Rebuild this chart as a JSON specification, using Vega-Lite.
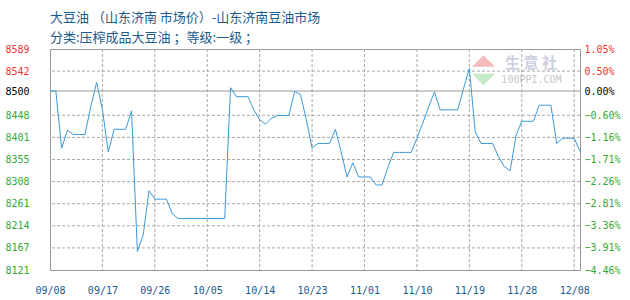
{
  "$schema": "https://vega.github.io/schema/vega-lite/v6.json",
  "width": 530,
  "height": 221,
  "autosize": {"type": "none"},
  "padding": {"left": 50, "top": 49, "right": 50, "bottom": 30},
  "background": "white",
  "config": {
    "view": {"stroke": "#999999", "strokeWidth": 1},
    "axis": {
      "labelFont": "DejaVu Sans Mono",
      "labelFontSize": 10,
      "ticks": false,
      "domain": false,
      "grid": false,
      "labelOverlap": false,
      "labelBound": false,
      "labelFlush": false
    }
  },
  "title": {
    "text": ["大豆油 （山东济南 市场价）-山东济南豆油市场", "分类:压榨成品大豆油 ；等级:一级 ；"],
    "anchor": "start",
    "frame": "group",
    "font": "Noto Sans CJK SC",
    "fontSize": 13,
    "fontWeight": "normal",
    "color": "#1b5b8c",
    "lineHeight": 20,
    "offset": -1
  },
  "datasets": {
    "gridY": [
      {"v": 8167.8}, {"v": 8214.6}, {"v": 8261.4}, {"v": 8308.2}, {"v": 8355},
      {"v": 8401.8}, {"v": 8448.6}, {"v": 8542.2}
    ],
    "gridX": [
      {"date": "2023-09-17"}, {"date": "2023-09-26"}, {"date": "2023-10-05"}, {"date": "2023-10-14"},
      {"date": "2023-10-23"}, {"date": "2023-11-01"}, {"date": "2023-11-10"}, {"date": "2023-11-19"},
      {"date": "2023-11-28"}, {"date": "2023-12-07"}
    ],
    "prices": [
      {"date": "2023-09-08", "price": 8500},
      {"date": "2023-09-09", "price": 8500},
      {"date": "2023-09-10", "price": 8379},
      {"date": "2023-09-11", "price": 8417},
      {"date": "2023-09-12", "price": 8408},
      {"date": "2023-09-13", "price": 8408},
      {"date": "2023-09-14", "price": 8408},
      {"date": "2023-09-15", "price": 8467},
      {"date": "2023-09-16", "price": 8518},
      {"date": "2023-09-17", "price": 8461},
      {"date": "2023-09-18", "price": 8371},
      {"date": "2023-09-19", "price": 8419},
      {"date": "2023-09-20", "price": 8419},
      {"date": "2023-09-21", "price": 8419},
      {"date": "2023-09-22", "price": 8458},
      {"date": "2023-09-23", "price": 8160},
      {"date": "2023-09-24", "price": 8195},
      {"date": "2023-09-25", "price": 8289},
      {"date": "2023-09-26", "price": 8271},
      {"date": "2023-09-27", "price": 8271},
      {"date": "2023-09-28", "price": 8271},
      {"date": "2023-09-29", "price": 8240},
      {"date": "2023-09-30", "price": 8230},
      {"date": "2023-10-01", "price": 8230},
      {"date": "2023-10-02", "price": 8230},
      {"date": "2023-10-03", "price": 8230},
      {"date": "2023-10-04", "price": 8230},
      {"date": "2023-10-05", "price": 8230},
      {"date": "2023-10-06", "price": 8230},
      {"date": "2023-10-07", "price": 8230},
      {"date": "2023-10-08", "price": 8230},
      {"date": "2023-10-09", "price": 8507},
      {"date": "2023-10-10", "price": 8488},
      {"date": "2023-10-11", "price": 8488},
      {"date": "2023-10-12", "price": 8488},
      {"date": "2023-10-13", "price": 8460},
      {"date": "2023-10-14", "price": 8439},
      {"date": "2023-10-15", "price": 8430},
      {"date": "2023-10-16", "price": 8442},
      {"date": "2023-10-17", "price": 8448},
      {"date": "2023-10-18", "price": 8448},
      {"date": "2023-10-19", "price": 8448},
      {"date": "2023-10-20", "price": 8499},
      {"date": "2023-10-21", "price": 8493},
      {"date": "2023-10-22", "price": 8440},
      {"date": "2023-10-23", "price": 8379},
      {"date": "2023-10-24", "price": 8389},
      {"date": "2023-10-25", "price": 8389},
      {"date": "2023-10-26", "price": 8389},
      {"date": "2023-10-27", "price": 8419},
      {"date": "2023-10-28", "price": 8371},
      {"date": "2023-10-29", "price": 8318},
      {"date": "2023-10-30", "price": 8348},
      {"date": "2023-10-31", "price": 8318},
      {"date": "2023-11-01", "price": 8318},
      {"date": "2023-11-02", "price": 8318},
      {"date": "2023-11-03", "price": 8301},
      {"date": "2023-11-04", "price": 8301},
      {"date": "2023-11-05", "price": 8338},
      {"date": "2023-11-06", "price": 8370},
      {"date": "2023-11-07", "price": 8370},
      {"date": "2023-11-08", "price": 8370},
      {"date": "2023-11-09", "price": 8370},
      {"date": "2023-11-10", "price": 8400},
      {"date": "2023-11-11", "price": 8432},
      {"date": "2023-11-12", "price": 8466},
      {"date": "2023-11-13", "price": 8498},
      {"date": "2023-11-14", "price": 8460},
      {"date": "2023-11-15", "price": 8460},
      {"date": "2023-11-16", "price": 8460},
      {"date": "2023-11-17", "price": 8460},
      {"date": "2023-11-18", "price": 8505},
      {"date": "2023-11-19", "price": 8548},
      {"date": "2023-11-20", "price": 8414},
      {"date": "2023-11-21", "price": 8389},
      {"date": "2023-11-22", "price": 8389},
      {"date": "2023-11-23", "price": 8389},
      {"date": "2023-11-24", "price": 8361},
      {"date": "2023-11-25", "price": 8340},
      {"date": "2023-11-26", "price": 8331},
      {"date": "2023-11-27", "price": 8405},
      {"date": "2023-11-28", "price": 8436},
      {"date": "2023-11-29", "price": 8436},
      {"date": "2023-11-30", "price": 8436},
      {"date": "2023-12-01", "price": 8470},
      {"date": "2023-12-02", "price": 8470},
      {"date": "2023-12-03", "price": 8470},
      {"date": "2023-12-04", "price": 8389},
      {"date": "2023-12-05", "price": 8400},
      {"date": "2023-12-06", "price": 8400},
      {"date": "2023-12-07", "price": 8400},
      {"date": "2023-12-08", "price": 8372}
    ]
  },
  "resolve": {"axis": {"y": "independent"}},
  "layer": [
    {
      "data": {"values": [{"date": "2023-11-21T10:20:00Z", "v": 8563.6}]},
      "mark": {"type": "point", "shape": "M-1,0.5L1,0.5L0,-0.5Z", "size": 529, "filled": true, "color": "#f5baba", "opacity": 1},
      "encoding": {
        "x": {"field": "date", "type": "temporal"},
        "y": {"field": "v", "type": "quantitative", "axis": null}
      }
    },
    {
      "data": {"values": [{"date": "2023-11-21T10:20:00Z", "v": 8524.4}]},
      "mark": {"type": "point", "shape": "M-1,-0.5L1,-0.5L0,0.5Z", "size": 529, "filled": true, "color": "#c6eac6", "opacity": 1},
      "encoding": {
        "x": {"field": "date", "type": "temporal"},
        "y": {"field": "v", "type": "quantitative", "axis": null}
      }
    },
    {
      "data": {"values": [{"date": "2023-11-29T14:10:00Z", "v": 8560.4, "label": "生  意  社"}]},
      "mark": {"type": "text", "font": "Noto Sans CJK SC", "fontSize": 15, "fontWeight": "bold", "color": "#cbcfdf", "align": "center", "baseline": "middle"},
      "encoding": {
        "x": {"field": "date", "type": "temporal"},
        "y": {"field": "v", "type": "quantitative", "axis": null},
        "text": {"field": "label"}
      }
    },
    {
      "data": {"values": [{"date": "2023-11-29T16:00:00Z", "v": 8523.3, "label": "100PPI.COM"}]},
      "mark": {"type": "text", "font": "DejaVu Sans Mono", "fontSize": 10, "color": "#c8c8c8", "align": "center", "baseline": "middle"},
      "encoding": {
        "x": {"field": "date", "type": "temporal"},
        "y": {"field": "v", "type": "quantitative", "axis": null},
        "text": {"field": "label"}
      }
    },
    {
      "data": {"name": "gridY"},
      "mark": {"type": "rule", "color": "#a8a8a8", "strokeWidth": 1, "strokeDash": [3, 2]},
      "encoding": {
        "y": {"field": "v", "type": "quantitative", "axis": null}
      }
    },
    {
      "data": {"name": "gridX"},
      "mark": {"type": "rule", "color": "#a8a8a8", "strokeWidth": 1, "strokeDash": [3, 2]},
      "encoding": {
        "x": {"field": "date", "type": "temporal"}
      }
    },
    {
      "data": {"values": [{}]},
      "mark": {"type": "rule", "color": "#999999", "strokeWidth": 1},
      "encoding": {
        "y": {
          "datum": 8500,
          "type": "quantitative",
          "axis": {
            "title": null,
            "orient": "right",
            "values": [8121, 8167.8, 8214.6, 8261.4, 8308.2, 8355, 8401.8, 8448.6, 8500, 8542.2, 8589],
            "labelExpr": "format((datum.value / 8500 - 1) * 100, '.2f') + '%'",
            "labelAlign": "left",
            "labelBaseline": "middle",
            "labelPadding": 4,
            "labelColor": {
              "condition": [
                {"test": "datum.value > 8500", "value": "#ee3333"},
                {"test": "datum.value == 8500", "value": "#000000"}
              ],
              "value": "#33aa33"
            },
            "grid": false
          }
        }
      }
    },
    {
      "data": {"name": "prices"},
      "mark": {"type": "line", "color": "#3b99d8", "strokeWidth": 1},
      "encoding": {
        "x": {
          "field": "date",
          "type": "temporal",
          "scale": {"nice": false},
          "axis": {
            "title": null,
            "values": [1694131200000, 1694908800000, 1695686400000, 1696464000000, 1697241600000, 1698019200000, 1698796800000, 1699574400000, 1700352000000, 1701129600000, 1701907200000],
            "labelExpr": "utcFormat(datum.value, '%m/%d') == '12/07' ? '12/08' : utcFormat(datum.value, '%m/%d')",
            "labelColor": "#1a5a8f",
            "labelPadding": 15,
            "grid": false
          }
        },
        "y": {
          "field": "price",
          "type": "quantitative",
          "scale": {"domain": [8121, 8589], "nice": false, "zero": false},
          "axis": {
            "title": null,
            "orient": "left",
            "values": [8121, 8167.8, 8214.6, 8261.4, 8308.2, 8355, 8401.8, 8448.6, 8500, 8542.2, 8589],
            "labelExpr": "floor(datum.value)",
            "labelAlign": "left",
            "labelBaseline": "middle",
            "labelPadding": 45,
            "labelColor": {
              "condition": [
                {"test": "datum.value > 8500", "value": "#ee3333"},
                {"test": "datum.value == 8500", "value": "#000000"}
              ],
              "value": "#33aa33"
            },
            "grid": false
          }
        }
      }
    }
  ]
}
